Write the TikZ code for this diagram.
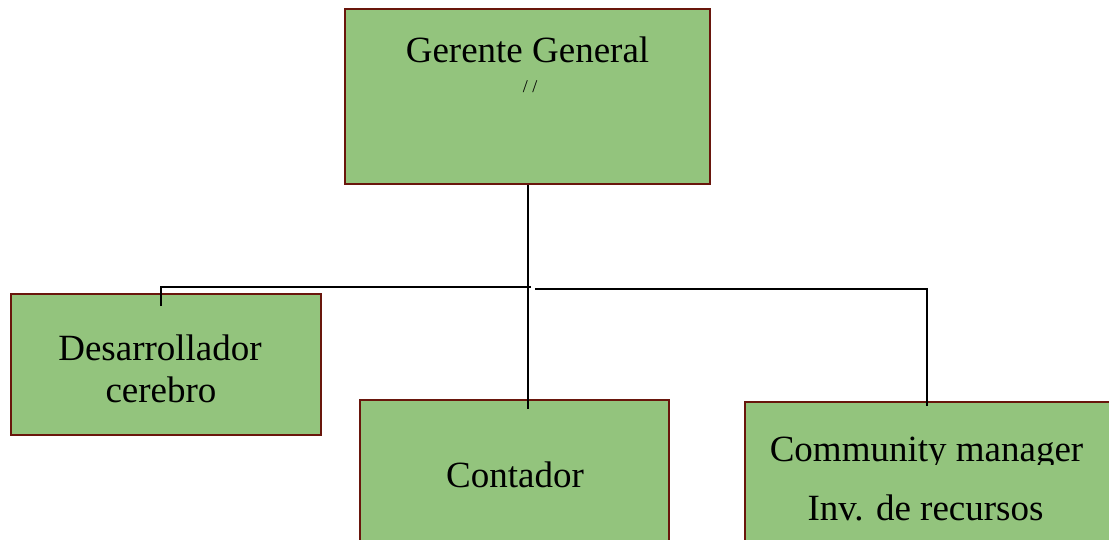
\documentclass[tikz,border=0pt]{standalone}
\usepackage{fontspec}
\setmainfont{Liberation Serif}
\usetikzlibrary{calc}
\definecolor{boxfill}{RGB}{147,196,125}
\definecolor{boxline}{RGB}{105,22,12}
\begin{document}
\begin{tikzpicture}[x=1pt,y=-1pt,
  orgbox/.style={draw=boxline,fill=boxfill,line width=2pt,rectangle,inner sep=0pt},
  label/.style={anchor=base,inner sep=0pt,font=\fontsize{37}{41}\selectfont},
  small/.style={anchor=base,inner sep=0pt,font=\fontsize{18}{20}\selectfont},
  link/.style={draw=black,line width=2pt}]
\useasboundingbox (0,0) rectangle (1109,539);
\clip (0,0) rectangle (1109,539);
% boxes
\node[orgbox,minimum width=365pt,minimum height=175pt] (top) at (527.5,96.5) {};
\node[orgbox,minimum width=310pt,minimum height=141pt] (dev) at (166,364.5) {};
\node[orgbox,minimum width=309pt,minimum height=180pt] (cont) at (514.5,490) {};
\node[orgbox,minimum width=380pt,minimum height=200pt] (comm) at (935,502) {};
% texts
\node[label] (t1) at (527.5,62) {Gerente General};
\node[small] (t2) at (530,92) {/ /};
\node[label] (t3) at (160,360) {Desarrollador};
\node[label] (t4) at (161,402) {cerebro};
\node[label] (t5) at (515,487) {Contador};
\begin{scope}
  \clip (745,400) rectangle (1109,464);
  \node[label] (t6) at (926.5,461) {Community manager};
\end{scope}
\node[label] (t7) at (925.5,520) {Inv. de recursos};
% connectors
\coordinate (jl) at (161,287);
\coordinate (jm) at (531,287);
\coordinate (jr) at (535,289);
\coordinate (cr) at (927,289);
\draw[link] (top.south) ++(0.5,0) -- ++(0,224) coordinate (cend);
\draw[link] ($(jl)+(0,19)$) -- (jl) -- (jm);
\draw[link] (jr) -- (cr) -- ($(cr |- comm.north)+(0,5)$);
\end{tikzpicture}
\end{document}
